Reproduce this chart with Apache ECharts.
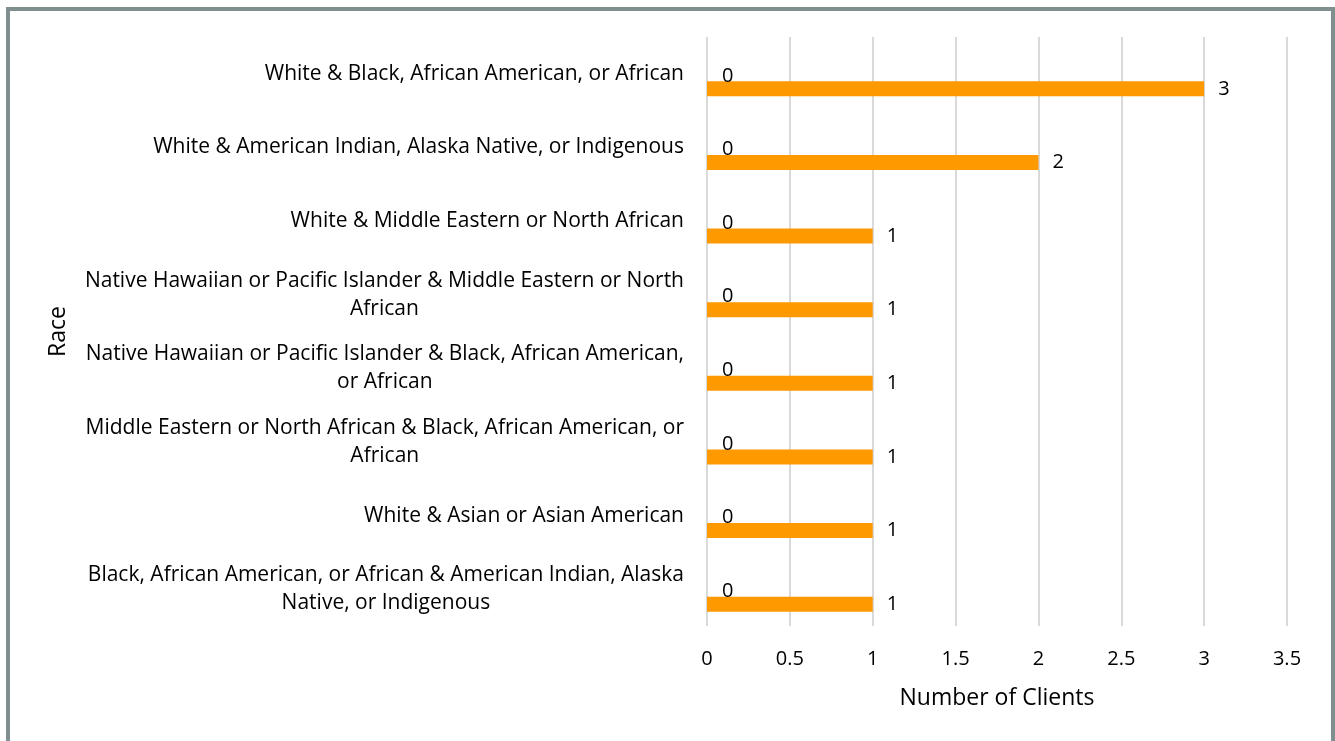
<!DOCTYPE html>
<html>
<head>
<meta charset="utf-8">
<script src="https://cdn.jsdelivr.net/npm/echarts@6/dist/echarts.min.js"></script>
<style>
html,body{margin:0;padding:0;background:#fff;overflow:hidden;}
#frame{position:absolute;left:6px;top:7px;width:1321px;height:760px;border:4px solid #7f8f8f;border-bottom:none;}
#chart{position:absolute;left:0;top:0;width:1335px;height:741px;}
</style>
</head>
<body>
<div id="frame"></div>
<div id="chart"></div>
<script>
// Categories listed bottom to top
var categories = [
  'Black, African American, or African & American Indian, Alaska\nNative, or Indigenous',
  'White & Asian or Asian American',
  'Middle Eastern or North African & Black, African American, or\nAfrican',
  'Native Hawaiian or Pacific Islander & Black, African American,\nor African',
  'Native Hawaiian or Pacific Islander & Middle Eastern or North\nAfrican',
  'White & Middle Eastern or North African',
  'White & American Indian, Alaska Native, or Indigenous',
  'White & Black, African American, or African'
];
var blankValues = [null, null, null, null, null, null, null, null];
var zeroValues = [0, 0, 0, 0, 0, 0, 0, 0];
var clientValues = [1, 1, 1, 1, 1, 1, 2, 3];
var xTicks = [0, 0.5, 1, 1.5, 2, 2.5, 3, 3.5];

var FONT = 'Open Sans';
var chart = echarts.init(document.getElementById('chart'));
chart.setOption({
  animation: false,
  textStyle: { fontFamily: FONT },
  grid: { left: 707, right: 48, top: 37, bottom: 115, containLabel: false },
  xAxis: {
    type: 'value',
    min: xTicks[0],
    max: xTicks[xTicks.length - 1],
    interval: 0.5,
    name: 'Number of Clients',
    nameLocation: 'middle',
    nameGap: 61,
    nameTextStyle: { fontSize: 23, color: '#000', fontFamily: FONT },
    axisLine: { show: false },
    axisTick: { show: false },
    axisLabel: { fontSize: 20, color: '#000', margin: 23, fontFamily: FONT },
    splitLine: { show: true, lineStyle: { color: '#d9d9d9', width: 2 } }
  },
  yAxis: {
    type: 'category',
    data: categories,
    name: 'Race',
    nameLocation: 'middle',
    nameGap: 637,
    nameRotate: 90,
    nameTextStyle: { fontSize: 23, color: '#000', fontFamily: FONT },
    axisLine: { show: false },
    axisTick: { show: false },
    splitLine: { show: false },
    axisLabel: {
      margin: 23,
      align: 'right',
      color: '#000',
      fontSize: 21,
      fontFamily: FONT,
      lineHeight: 28,
      formatter: function (v) {
        return v.split('\n').map(function (s) { return '{c|' + s + '}'; }).join('\n');
      },
      rich: { c: { align: 'center', fontSize: 21, fontFamily: FONT, color: '#000', lineHeight: 28 } }
    }
  },
  series: [
    {
      name: 'Blank', type: 'bar', data: blankValues,
      barWidth: 15, barGap: '0%', barCategoryGap: '39%',
      itemStyle: { color: '#a5a5a5' }
    },
    {
      name: 'Zero', type: 'bar', data: zeroValues,
      barWidth: 15,
      itemStyle: { color: '#4472c4' },
      label: { show: true, position: 'right', distance: 15, offset: [0, 2], color: '#000', fontSize: 20, fontFamily: FONT }
    },
    {
      name: 'Clients', type: 'bar', data: clientValues,
      barWidth: 15,
      itemStyle: { color: '#ff9900' },
      label: { show: true, position: 'right', distance: 14, color: '#000', fontSize: 20, fontFamily: FONT }
    }
  ]
});
</script>
</body>
</html>
